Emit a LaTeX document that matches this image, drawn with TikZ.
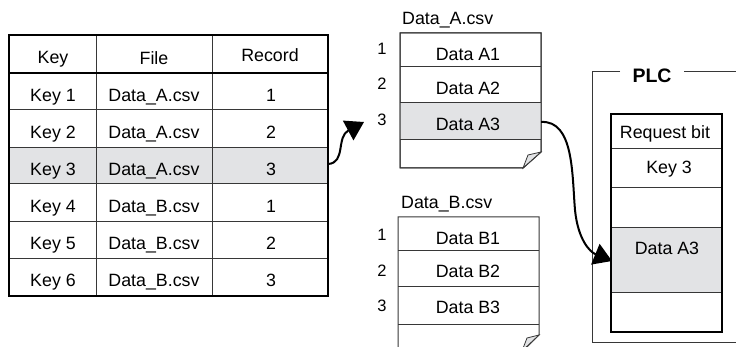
\documentclass[tikz,border=0pt]{standalone}
\usepackage{fontspec}
\setmainfont{Liberation Sans}
\usetikzlibrary{arrows.meta}
\definecolor{cellgray}{RGB}{226,227,229}
\definecolor{thinline}{RGB}{55,55,55}
\begin{document}
\begin{tikzpicture}[x=1pt,y=-1pt,
  txt/.style={font=\fontsize{17.8}{20}\selectfont, inner sep=0pt, anchor=base},
  num/.style={font=\fontsize{16.5}{18}\selectfont, inner sep=0pt, anchor=base},
  plctitle/.style={font=\fontsize{19.5}{22}\selectfont\bfseries, inner sep=0pt, anchor=base},
  thickbox/.style={line width=2.6pt, draw=black},
  thinrule/.style={line width=1pt, draw=thinline},
  filebox/.style={line width=1pt, draw=thinline, fill=white},
  curl/.style={line width=0.8pt, draw=thinline, fill=cellgray},
  flow/.style={line width=2pt, draw=black, -{Triangle[length=18pt,width=22pt]}}
]
\clip (0,0) rectangle (736,347);
\fill[white] (0,0) rectangle (736,347);

% ---------------- key table ----------------
\fill[cellgray] (9,148) rectangle (328,184);
\foreach \yy in {110,148,184,222,259} \draw[thinrule] (9,\yy) -- (328,\yy);
\foreach \xx in {96,212} \draw[thinrule] (\xx,35) -- (\xx,296);
\draw[thickbox] (9,73) -- (328,73);
\draw[thickbox] (9,35) rectangle (328,296);

\node[txt] (hkey) at (53,64) {Key};
\node[txt] (hfile) at (154,65) {File};
\node[txt] (hrec) at (270,62) {Record};

\node[txt] (k1) at (53,102) {Key 1};
\node[txt] (f1) at (154,102) {Data\_A.csv};
\node[txt] (r1) at (271,102) {1};
\node[txt] (k2) at (53,139) {Key 2};
\node[txt] (f2) at (154,139) {Data\_A.csv};
\node[txt] (r2) at (271,139) {2};
\node[txt] (k3) at (53,176) {Key 3};
\node[txt] (f3) at (154,176) {Data\_A.csv};
\node[txt] (r3) at (271,176) {3};
\node[txt] (k4) at (53,213) {Key 4};
\node[txt] (f4) at (154,213) {Data\_B.csv};
\node[txt] (r4) at (271,213) {1};
\node[txt] (k5) at (53,250) {Key 5};
\node[txt] (f5) at (154,250) {Data\_B.csv};
\node[txt] (r5) at (271,250) {2};
\node[txt] (k6) at (53,287) {Key 6};
\node[txt] (f6) at (154,287) {Data\_B.csv};
\node[txt] (r6) at (271,287) {3};

% ---------------- Data_A file ----------------
\draw[filebox] (400,33) -- (541,33) -- (541,152) -- (523,168) -- (400,168) -- cycle;
\fill[cellgray] (400,103) rectangle (541,140);
\foreach \yy in {67,103,140} \draw[thinrule] (400,\yy) -- (541,\yy);
\draw[filebox, fill=none] (400,33) -- (541,33) -- (541,152) -- (523,168) -- (400,168) -- cycle;
\draw[curl] (541,152) -- (528,155) -- (523,168) -- cycle;
\node[txt, anchor=base west] (fa) at (402,25) {Data\_A.csv};
\node[txt] (a1) at (468,61) {Data A1};
\node[txt] (a2) at (468,95) {Data A2};
\node[txt] (a3) at (468,131) {Data A3};
\node[num] (na1) at (382,55) {1};
\node[num] (na2) at (382,90) {2};
\node[num] (na3) at (382,126) {3};

% ---------------- Data_B file ----------------
\foreach \yy in {251,287,324} \draw[thinrule] (398,\yy) -- (539,\yy);
\draw[filebox, fill=none] (398,217) -- (539,217) -- (539,335) -- (523,351) -- (398,351) -- cycle;
\draw[curl] (539,335) -- (527,338) -- (522,351) -- cycle;
\node[txt, anchor=base west] (fb) at (401,209) {Data\_B.csv};
\node[txt] (b1) at (468,245) {Data B1};
\node[txt] (b2) at (468,278) {Data B2};
\node[txt] (b3) at (468,313) {Data B3};
\node[num] (nb1) at (382,241) {1};
\node[num] (nb2) at (382,277) {2};
\node[num] (nb3) at (382,312) {3};

% ---------------- PLC ----------------
\draw[line width=1pt, draw=thinline] (620,72) -- (592,72) -- (592,342) -- (736,342);
\draw[line width=1pt, draw=thinline] (684,72) -- (736,72);
\node[plctitle] (plc) at (652,83) {PLC};

\fill[cellgray] (611,228) rectangle (722,293);
\foreach \yy in {149,188,228,293} \draw[thinrule] (611,\yy) -- (722,\yy);
\draw[thickbox] (611,114) rectangle (722,332);
\node[txt] (req) at (665,139) {Request bit};
\node[txt] (pk3) at (669,174) {Key 3};
\node[txt] (pa3) at (667,255) {Data A3};

% ---------------- connectors ----------------
\coordinate (t3out) at (328,164);
\coordinate (a3in) at (364,122);
\coordinate (a3out) at (541,122);
\coordinate (plcin) at (612,261);
\draw[flow] (t3out) .. controls (346,163) and (336,137) .. (a3in);
\draw[flow] (a3out) .. controls (574,120) and (572,175) .. (575,210)
                    .. controls (578,240) and (590,252) .. (plcin);
\end{tikzpicture}
\end{document}
